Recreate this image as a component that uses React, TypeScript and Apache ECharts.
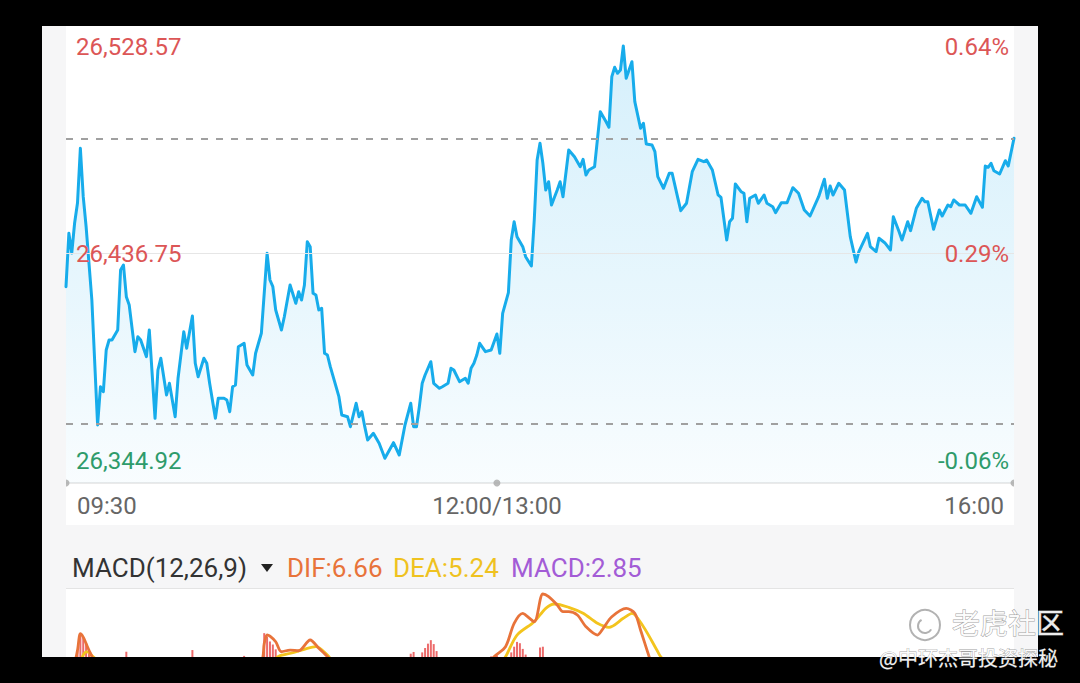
import React, { useEffect, useRef } from "react";
import * as echarts from "echarts";

// ---- intraday price (minute index from 09:30, lunch break removed) ----
const minutes = [
  0, 1, 2, 3, 4, 5, 6, 7, 9, 11, 12, 13, 14, 15, 16, 18, 19, 20, 21, 22, 24, 25, 26, 28, 29, 31, 32, 33, 35, 36, 38, 39,
  41, 42, 44, 45, 46, 48, 49, 50, 52, 53, 55, 56, 57, 58, 59, 60, 62, 63, 65, 66, 68, 70, 71, 72, 73, 75, 76, 78, 80,
  81, 82, 83, 84, 85, 86, 87, 88, 89, 90, 91, 92, 95, 96, 98, 99, 101, 102, 103, 104, 105, 107, 109, 111, 114, 116,
  118, 120, 121, 122, 123, 124, 125, 127, 128, 130, 131, 133, 134, 135, 137, 139, 140, 141, 142, 143, 144, 146, 148,
  150, 151, 152, 154, 155, 156, 157, 159, 160, 162, 163, 164, 165, 166, 167, 168, 169, 171, 172, 173, 175, 177, 179,
  180, 181, 182, 184, 186, 188, 189, 190, 191, 192, 193, 194, 195, 197, 198, 200, 201, 202, 204, 205, 206, 208, 210,
  211, 213, 214, 216, 218, 220, 222, 223, 225, 227, 228, 230, 231, 232, 233, 235, 236, 237, 238, 240, 241, 243, 244,
  246, 247, 249, 251, 253, 255, 257, 259, 262, 264, 265, 266, 267, 269, 271, 272, 273, 275, 276, 279, 280, 282, 283,
  285, 287, 288, 290, 291, 293, 294, 296, 298, 299, 300, 302, 304, 305, 307, 308, 309, 311, 313, 315, 317, 319, 320,
  321, 322, 323, 325, 327, 328, 330,
];
const prices = [
  26421.8, 26445.49, 26436.75, 26450.06, 26458.93, 26483.19, 26461.72, 26448.42, 26415.9, 26360.45, 26377.44, 26375.22,
  26393.72, 26398.16, 26398.16, 26402.59, 26429.21, 26431.43, 26417.36, 26413.68, 26392.97, 26399.62, 26398.16,
  26390.75, 26402.59, 26363.42, 26384.85, 26390.04, 26373.76, 26378.95, 26364.13, 26381.17, 26401.84, 26394.47,
  26408.8, 26387.82, 26381.88, 26390.04, 26387.82, 26378.95, 26363.42, 26372.3, 26372.3, 26371.54, 26366.35, 26377.44,
  26378.19, 26395.18, 26396.69, 26387.07, 26382.63, 26392.26, 26401.13, 26436.62, 26424.77, 26421.8, 26411.46,
  26402.59, 26408.49, 26422.55, 26414.44, 26419.58, 26415.9, 26422.55, 26441.76, 26439.54, 26418.87, 26418.12,
  26411.46, 26412.22, 26392.26, 26391.5, 26386.31, 26373.0, 26364.89, 26364.13, 26359.7, 26370.08, 26364.13, 26366.35,
  26359.7, 26353.8, 26356.77, 26352.33, 26345.68, 26352.6, 26347.14, 26360.45, 26370.08, 26359.7, 26359.7, 26368.57,
  26378.95, 26382.63, 26388.53, 26378.95, 26376.73, 26377.44, 26378.95, 26385.6, 26384.85, 26379.66, 26381.17,
  26378.95, 26385.6, 26387.82, 26391.5, 26396.69, 26392.97, 26393.72, 26400.82, 26392.26, 26410.0, 26419.14, 26442.52,
  26450.63, 26443.98, 26439.54, 26435.11, 26430.98, 26451.39, 26478.0, 26485.41, 26476.54, 26464.7, 26468.38, 26458.04,
  26464.7, 26468.38, 26461.72, 26482.44, 26479.47, 26475.03, 26478.32, 26471.35, 26473.57, 26475.03, 26499.43,
  26494.99, 26492.51, 26514.96, 26519.13, 26516.46, 26517.93, 26528.57, 26514.25, 26521.61, 26503.87, 26492.07,
  26494.29, 26485.1, 26484.66, 26481.69, 26470.6, 26465.45, 26472.11, 26472.11, 26461.01, 26455.51, 26458.8, 26472.81,
  26478.32, 26477.25, 26478.0, 26473.57, 26462.48, 26461.37, 26442.52, 26450.63, 26452.14, 26467.36, 26463.94,
  26463.23, 26450.63, 26461.01, 26462.48, 26458.8, 26462.48, 26458.8, 26457.29, 26454.63, 26459.06, 26459.06,
  26465.72, 26463.23, 26455.82, 26453.16, 26461.72, 26469.44, 26461.01, 26466.47, 26462.48, 26467.67, 26464.7,
  26454.36, 26443.98, 26432.76, 26437.33, 26445.49, 26439.54, 26437.33, 26443.27, 26441.32, 26438.08, 26452.85,
  26446.2, 26442.52, 26450.63, 26446.64, 26456.58, 26461.01, 26459.51, 26459.51, 26447.26, 26455.82, 26453.16,
  26458.04, 26457.29, 26460.26, 26458.04, 26458.04, 26454.36, 26461.72, 26457.02, 26475.34, 26474.77, 26476.54,
  26473.26, 26471.79, 26477.69, 26475.34, 26487.63,
];
const prevClose = 26361.0;
const priceLabels = [26528.57, 26436.75, 26344.92];
const priceMin = 26334.72;
const priceMax = 26537.44;
const totalMinutes = 330;
const timeTicks = [0, 150, 330];
const timeLabels = ["09:30", "12:00/13:00", "16:00"];

// ---- MACD panel (only its upper part is visible) ----
const difMinutes = [0, 3, 4, 5, 6, 7, 8, 9, 10, 20, 40, 60, 68, 69, 70, 71, 73, 75, 78, 81, 85, 88, 91, 94, 110, 130, 146, 149, 153, 156, 159, 160, 163, 166, 168, 171, 173, 175, 178, 181, 185, 187, 190, 195, 198, 200, 203, 205, 230, 260, 300, 330];
const difValues = [12, 13.5, 16.0, 19.8, 19.0, 17.5, 16.0, 14.6, 13, 11, 10, 10.5, 13.5, 17.5, 19.5, 19.2, 17.94, 15.65, 16.04, 15.88, 18.33, 16.43, 14.51, 12, 10.5, 10, 12, 14.51, 16.8, 22.15, 24.44, 24.05, 22.52, 28.86, 28.24, 26.34, 24.81, 24.81, 24.05, 21.37, 19.47, 21.01, 23.66, 25.58, 24.44, 20.62, 14.51, 11, 9, 8, 6.5, 6.66];
const deaMinutes = [0, 5, 6, 7, 8, 9, 10, 12, 20, 40, 60, 72, 74, 79, 84, 87, 91, 93, 110, 130, 150, 153, 157, 163, 167, 170, 175, 180, 185, 189, 194, 197, 201, 206, 207, 210, 240, 270, 300, 330];
const deaValues = [11, 13.5, 14.9, 15.6, 15.5, 14.8, 14.2, 13, 11.5, 10.5, 10.5, 13.5, 14.6, 15.42, 16.43, 16.8, 14.9, 13.5, 11.5, 10.5, 12, 14.51, 19.47, 22.52, 25.58, 26.57, 25.81, 24.44, 22.15, 21.24, 23.3, 24.44, 21.37, 15.65, 14.51, 12.5, 9.5, 8, 6, 5.24];
const histMinutes = [4, 5, 6, 7, 8, 21, 44, 62, 69, 70, 71, 72, 73, 120, 121, 124, 125, 126, 127, 128, 129, 148, 150, 155, 156, 157, 158, 159, 160, 165, 166];
const histValues = [16.0, 19.9, 19.0, 17.5, 15.5, 15.65, 16.04, 14.7, 19.9, 19.1, 18.0, 17.3, 16.2, 15.2, 15.6, 15.5, 16.5, 17.5, 18.3, 17.4, 15.8, 14.6, 14.8, 15.5, 16.8, 17.9, 17.6, 16.3, 15.0, 16.6, 16.8];
const macdMin = 8.5;
const macdMax = 30;
const macdTitle = "MACD(12,26,9)";
const difLast = 6.66;
const deaLast = 5.24;
const macdLast = 2.85;

const RED = "#dc5656";
const GREEN = "#2e9b6b";
const LINE = "#17aceb";
const GRAY_PANEL = "#f6f6f7";

export default function App() {
  const ref = useRef<HTMLDivElement>(null);

  useEffect(() => {
    const chart = echarts.init(ref.current as HTMLDivElement, null, { renderer: "svg" });
    const dashed = { type: [7, 8] as any, color: "#a0a0a0", width: 2.2 };
    const lastPrice = prices[prices.length - 1];

    chart.setOption({
      animation: false,
      backgroundColor: "#000",
      grid: [
        { left: 66, right: 66, top: 26, height: 457 },
        { left: 66, right: 66, top: 589, height: 94 },
      ],
      xAxis: [
        {
          type: "value",
          gridIndex: 0,
          min: 0,
          max: totalMinutes,
          axisLine: { show: true, onZero: false, lineStyle: { color: "#e3e3e3", width: 1.5 } },
          axisTick: { show: false },
          axisLabel: { show: false },
          splitLine: { show: false },
        },
        { type: "value", gridIndex: 1, min: 0, max: totalMinutes, show: false, splitLine: { show: false } },
      ],
      yAxis: [
        { type: "value", gridIndex: 0, min: priceMin, max: priceMax, show: false, splitLine: { show: false } },
        { type: "value", gridIndex: 1, min: macdMin, max: macdMax, show: false, splitLine: { show: false } },
      ],
      series: [
        {
          type: "line",
          xAxisIndex: 0,
          yAxisIndex: 0,
          data: minutes.map((m, i) => [m, prices[i]]),
          showSymbol: false,
          lineStyle: { color: LINE, width: 3, join: "round", cap: "round" },
          areaStyle: {
            color: new echarts.graphic.LinearGradient(0, 0, 0, 1, [
              { offset: 0, color: "rgba(28,172,236,0.26)" },
              { offset: 0.6, color: "rgba(28,172,236,0.14)" },
              { offset: 1, color: "rgba(28,172,236,0.04)" },
            ]),
          },
          markLine: {
            silent: true,
            symbol: ["none", "none"],
            label: { show: false },
            data: [
              { yAxis: priceLabels[1], lineStyle: { type: "solid", color: "#e6e6e6", width: 1.2 } },
              { yAxis: prevClose, lineStyle: dashed },
              { yAxis: lastPrice, lineStyle: dashed },
            ],
          },
          z: 3,
        },
        {
          type: "scatter",
          xAxisIndex: 0,
          yAxisIndex: 0,
          data: timeTicks.map((t) => [t, priceMin]),
          symbolSize: 7,
          clip: false,
          itemStyle: { color: "#a9a9a9" },
          z: 4,
        },
        {
          type: "bar",
          xAxisIndex: 1,
          yAxisIndex: 1,
          data: histMinutes.map((m, i) => [m, histValues[i]]),
          barWidth: 2,
          itemStyle: { color: "#ec6b6b" },
          z: 2,
        },
        {
          type: "line",
          xAxisIndex: 1,
          yAxisIndex: 1,
          data: deaMinutes.map((m, i) => [m, deaValues[i]]),
          showSymbol: false,
          smooth: 0.3,
          lineStyle: { color: "#f3c41d", width: 2.8 },
          z: 3,
        },
        {
          type: "line",
          xAxisIndex: 1,
          yAxisIndex: 1,
          data: difMinutes.map((m, i) => [m, difValues[i]]),
          showSymbol: false,
          smooth: 0.3,
          lineStyle: { color: "#e8733a", width: 2.8 },
          z: 4,
        },
      ],
    });

    const font = "24px Roboto";
    const headFont = "26px Roboto";
    const txt = (text: string, x: number, y: number, fill: string, align: string, f = font, z = 20, extra: any = {}) => ({
      type: "text",
      z,
      silent: true,
      style: {
        text,
        x,
        y,
        fill,
        font: f,
        align,
        textAlign: align,
        verticalAlign: "middle",
        textVerticalAlign: "middle",
        ...extra,
      },
    });

    const xPix = (m: number) => chart.convertToPixel({ xAxisIndex: 0 }, m) as number;
    const yPix = (v: number) => chart.convertToPixel({ yAxisIndex: 0 }, v) as number;
    const left = xPix(0);
    const right = xPix(totalMinutes);

    const priceTexts: any[] = [];
    priceLabels.forEach((v) => {
      const c = v >= prevClose ? RED : GREEN;
      const y = yPix(v) + 1;
      priceTexts.push(
        txt(v.toLocaleString("en-US", { minimumFractionDigits: 2, maximumFractionDigits: 2 }), left + 10, y, c, "left")
      );
      priceTexts.push(txt(((v / prevClose - 1) * 100).toFixed(2) + "%", right - 5, y, c, "right"));
    });

    const timeTexts = timeTicks.map((t, i) => {
      const x = xPix(t);
      const align = i === 0 ? "left" : i === timeTicks.length - 1 ? "right" : "center";
      const dx = i === 0 ? 11 : i === timeTicks.length - 1 ? -10 : 0;
      return txt(timeLabels[i], x + dx, 506, "#666", align);
    });

    chart.setOption({
      graphic: [
        { type: "rect", z: -10, silent: true, shape: { x: 42, y: 26, width: 996, height: 631 }, style: { fill: GRAY_PANEL } },
        { type: "rect", z: -5, silent: true, shape: { x: 66, y: 26, width: 948, height: 499 }, style: { fill: "#fff" } },
        { type: "rect", z: -5, silent: true, shape: { x: 66, y: 589, width: 948, height: 94 }, style: { fill: "#fff" } },
        {
          type: "line",
          z: -4,
          silent: true,
          shape: { x1: 66, y1: 588.5, x2: 1014, y2: 588.5 },
          style: { stroke: "#e4e4e4", lineWidth: 1 },
        },
        { type: "rect", z: 50, silent: true, shape: { x: 42, y: 470, width: 24, height: 30 }, style: { fill: GRAY_PANEL } },
        { type: "rect", z: 50, silent: true, shape: { x: 1014, y: 470, width: 24, height: 30 }, style: { fill: GRAY_PANEL } },
        ...priceTexts,
        ...timeTexts,
        txt(macdTitle, 72, 568, "#333", "left", headFont),
        {
          type: "polygon",
          z: 20,
          silent: true,
          shape: { points: [[261, 564], [273, 564], [267, 572]] },
          style: { fill: "#222" },
        },
        txt("DIF:" + difLast.toFixed(2), 287, 568, "#e8733a", "left", headFont),
        txt("DEA:" + deaLast.toFixed(2), 393, 568, "#efc21f", "left", headFont),
        txt("MACD:" + macdLast.toFixed(2), 511, 568, "#a35cd6", "left", headFont),
        { type: "rect", z: 100, silent: true, shape: { x: 0, y: 657, width: 1080, height: 26 }, style: { fill: "#000" } },
        {
          type: "circle",
          z: 101,
          silent: true,
          shape: { cx: 925, cy: 625, r: 15 },
          style: { fill: "rgba(255,255,255,0.6)", stroke: "rgba(170,170,170,0.9)", lineWidth: 2 },
        },
        {
          type: "arc",
          z: 101,
          silent: true,
          shape: { cx: 925, cy: 626, r: 7, startAngle: 0.5, endAngle: 4.2 },
          style: { stroke: "rgba(170,170,170,0.9)", lineWidth: 2, fill: "none" },
        },
        txt("老虎社区", 952, 622, "rgba(255,255,255,0.92)", "left", '28px "Noto Sans CJK SC"', 101, {
          stroke: "rgba(150,150,150,0.9)",
          lineWidth: 1,
        }),
        txt("@中环杰哥投资探秘", 1058, 657, "rgba(255,255,255,0.95)", "right", '20px "Noto Sans CJK SC"', 101, {
          stroke: "rgba(120,120,120,0.7)",
          lineWidth: 0.8,
        }),
      ],
    });

    return () => chart.dispose();
  }, []);

  return <div ref={ref} style={{ position: "fixed", left: 0, top: 0, width: 1080, height: 683 }} />;
}
